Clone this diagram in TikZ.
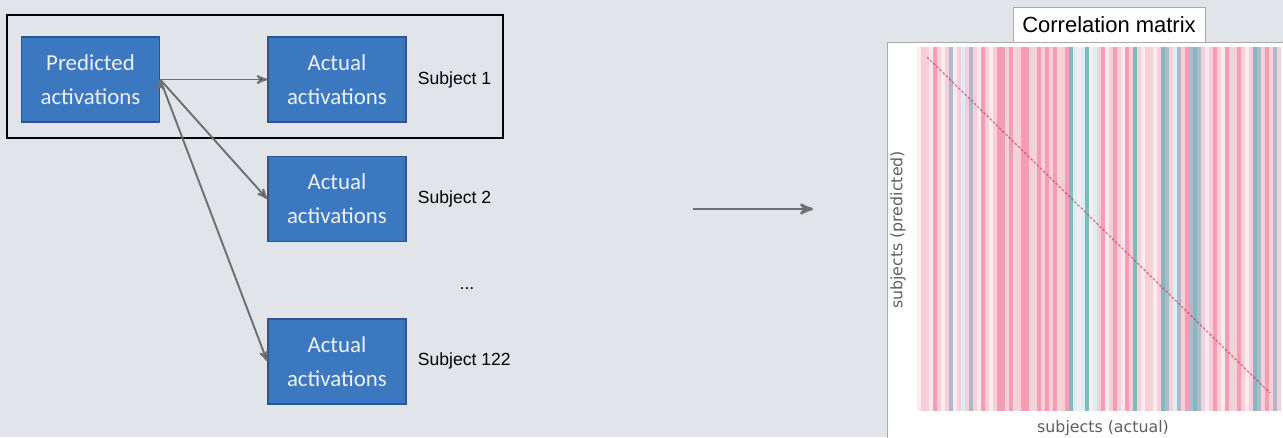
\documentclass[tikz,border=0pt]{standalone}
\usepackage{fontspec}
\setmainfont{Liberation Sans}
\newfontfamily\boxfont{Carlito}
\newfontfamily\axisfont{DejaVu Sans}
\usepackage{tikz}
\usetikzlibrary{arrows,positioning}

\definecolor{bgGray}{RGB}{225,228,232}
\definecolor{boxBlue}{RGB}{60,120,192}
\definecolor{boxLine}{RGB}{44,86,146}
\definecolor{boxText}{RGB}{236,241,248}
\definecolor{arrGray}{RGB}{112,112,112}
\definecolor{panelLine}{RGB}{170,170,170}
\definecolor{axisGray}{RGB}{95,95,95}
\definecolor{hmW}{RGB}{251,234,239}
\definecolor{hmP}{RGB}{248,206,217}
\definecolor{hmR}{RGB}{243,158,181}
\definecolor{hmB}{RGB}{238,214,212}
\definecolor{hmT}{RGB}{132,184,190}
\definecolor{hmC}{RGB}{214,240,243}
\definecolor{hmG}{RGB}{172,186,204}
\definecolor{hmD}{RGB}{200,40,80}

\begin{document}
\begin{tikzpicture}[auto,>=stealth',node distance=2.14cm,
	act/.style={draw=boxLine,fill=boxBlue,text=boxText,thick,minimum width=2.76cm,minimum height=1.7cm,inner sep=0pt,align=center,font=\boxfont\fontsize{13}{19.5}\selectfont},
	subj/.style={inner sep=0pt,font=\fontsize{10}{12}\selectfont},
	axis/.style={inner sep=0pt,text=axisGray,font=\axisfont\fontsize{9}{11}\selectfont},
	link/.style={->,draw=arrGray,line width=1.1pt}]
		\fill[bgGray] (0,0) rectangle (25.66,-8.74);
		\useasboundingbox (0,0) rectangle (25.66,-8.74);

		% left part
		\node[act] (pred) at (1.81,-1.59) {Predicted\\activations};
		\node[act] (actA) [right=2.14cm of pred] {Actual\\activations};
		\node[act] (actB) [below=0.66cm of actA] {Actual\\activations};
		\node[act] (actN) [below=1.52cm of actB] {Actual\\activations};
		\node[subj,anchor=west] (subA) [right=0.22cm of actA] {Subject 1};
		\node[subj,anchor=west] (subB) [right=0.22cm of actB] {Subject 2};
		\node[subj,anchor=west] (subN) [right=0.22cm of actN] {Subject 122};
		\node[subj] (dots) at (9.34,-5.78) {...};
		\draw[black,line width=1.5pt] (0.14,-0.30) rectangle (10.06,-2.76);

		\path[link]
		(pred.east) edge (actA.west)
		(pred.east) edge (actB.west)
		(pred.east) edge (actN.west)
		;

		\coordinate (bigL) at (13.86,-4.18);
		\coordinate (bigR) at (16.26,-4.18);
		\draw[link,line width=1.5pt] (bigL) -- (bigR);

		% correlation matrix
		\fill[white,draw=panelLine] (17.74,-0.84) rectangle (25.80,-8.90);
		\node[draw=panelLine,fill=white,minimum width=3.84cm,minimum height=0.70cm,inner sep=0pt,font=\fontsize{12.5}{14}\selectfont] (title) at (22.18,-0.49) {Correlation matrix};
		\foreach \c [count=\i from 0] in {W,P,P,W,R,P,W,P,G,W,P,C,P,G,P,W,R,P,W,P,R,
			R,P,R,B,P,R,R,P,B,R,P,R,P,R,B,P,R,T,C,W,C,T,W,C,
			P,R,W,P,R,P,W,R,P,T,B,W,P,B,W,P,T,G,P,C,G,P,R,G,
			T,G,P,W,P,R,P,W,R,P,B,R,P,W,P,T,G,P,R,P,G,P}
			\fill[hm\c] ({18.34+\i*0.08},-0.94) rectangle ++(0.08,-7.28);
		\draw[hmD,opacity=0.6,line width=0.7pt,dash pattern=on 1.5pt off 1pt] (18.54,-1.14) -- (25.40,-7.86);
		\node[axis,rotate=90] (ylab) at (17.96,-4.60) {subjects (predicted)};
		\node[axis] (xlab) at (22.06,-8.56) {subjects (actual)};
	\end{tikzpicture}
\end{document}
